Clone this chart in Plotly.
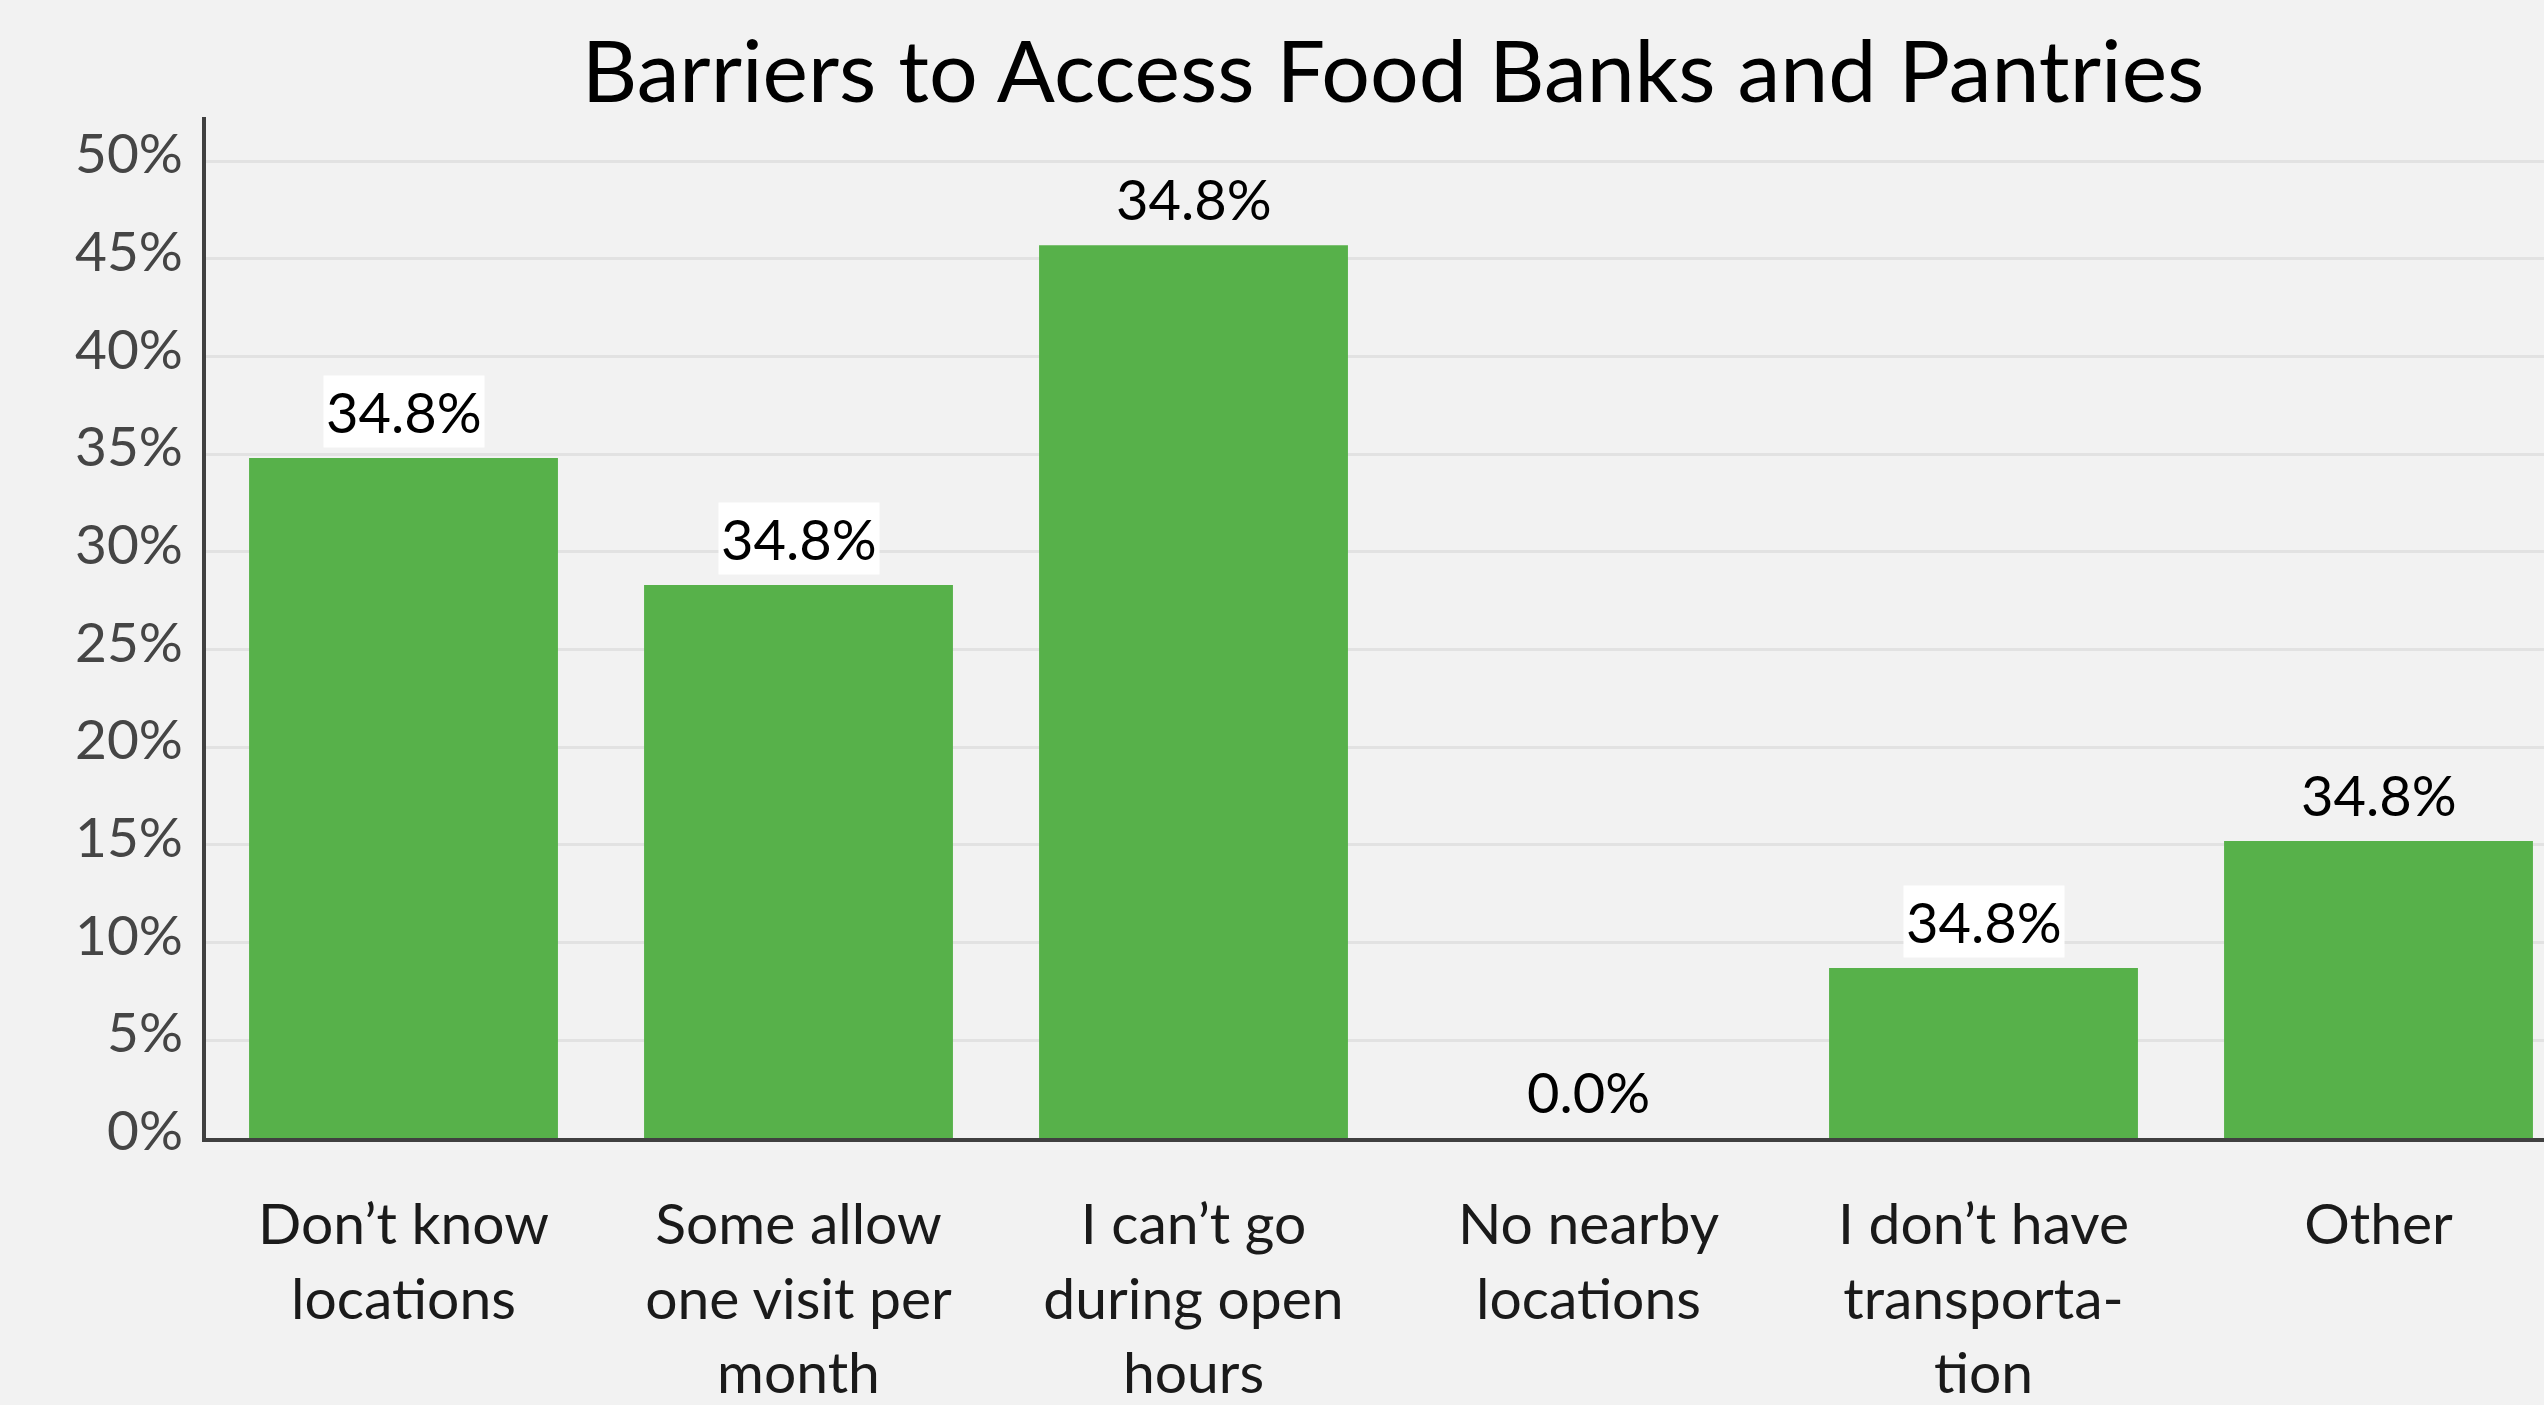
import plotly.graph_objects as go

categories = [
    "Don’t know<br>locations",
    "Some allow<br>one visit per<br>month",
    "I can’t go<br>during open<br>hours",
    "No nearby<br>locations",
    "I don’t have<br>transporta-<br>tion",
    "Other",
]
values = [34.8, 28.3, 45.7, 0.0, 8.7, 15.2]
label_texts = ["34.8%", "34.8%", "34.8%", "0.0%", "34.8%", "34.8%"]
label_boxed = [True, True, False, False, True, False]
y_tickvals = [0, 5, 10, 15, 20, 25, 30, 35, 40, 45, 50]
y_ticktext = ["0%", "5%", "10%", "15%", "20%", "25%", "30%", "35%", "40%", "45%", "50%"]

FONT = "Lato"
BG = "#f2f2f2"

fig = go.Figure()
fig.add_trace(go.Bar(
    x=list(range(len(categories))),
    y=values,
    marker=dict(color="#57b14a", line=dict(width=0)),
    hoverinfo="skip",
))

# data labels
for i, (v, t, boxed) in enumerate(zip(values, label_texts, label_boxed)):
    fig.add_annotation(
        x=i, y=v, xref="x", yref="y",
        text=t, showarrow=False,
        yanchor="bottom", xanchor="center",
        yshift=10,
        font=dict(family=FONT, size=56, color="#000000"),
        bgcolor="#ffffff" if boxed else "rgba(0,0,0,0)",
        borderpad=2,
    )

# y tick labels (sit slightly above their gridlines, as in the reference)
for tv, tt in zip(y_tickvals, y_ticktext):
    fig.add_annotation(
        x=0, y=tv, xref="paper", yref="y",
        text=tt, showarrow=False,
        xanchor="right", yanchor="middle",
        xshift=-21, yshift=9,
        font=dict(family=FONT, size=55, color="#454545"),
    )

fig.update_layout(
    width=2544, height=1405,
    paper_bgcolor=BG, plot_bgcolor=BG,
    margin=dict(l=206, r=0, t=117, b=259),
    bargap=0.218,
    showlegend=False,
    title=dict(
        text="Barriers to Access Food Banks and Pantries",
        font=dict(family=FONT, size=86, color="#000000"),
        x=1393 / 2544, xanchor="center", xref="container",
        y=1 - 72 / 1405, yanchor="middle", yref="container",
    ),
    font=dict(family=FONT),
)

fig.update_xaxes(
    range=[-0.5, -0.5 + 2338 / 395],
    tickvals=list(range(len(categories))),
    ticktext=categories,
    tickfont=dict(family=FONT, size=57, color="#1a1a1a"),
    showline=True, linecolor="#404040", linewidth=4,
    showgrid=False, zeroline=False,
    ticks="", ticklabelstandoff=34,
)
fig.update_yaxes(
    range=[0, 52.26],
    tickvals=y_tickvals,
    showticklabels=False,
    showline=True, linecolor="#404040", linewidth=4,
    showgrid=True, gridcolor="#e2e2e2", gridwidth=3,
    zeroline=False,
    ticks="",
)

fig.write_html(
    "out.html",
    config={"displayModeBar": False},
    post_script="document.body.style.margin='0';document.body.style.overflow='hidden';",
)
